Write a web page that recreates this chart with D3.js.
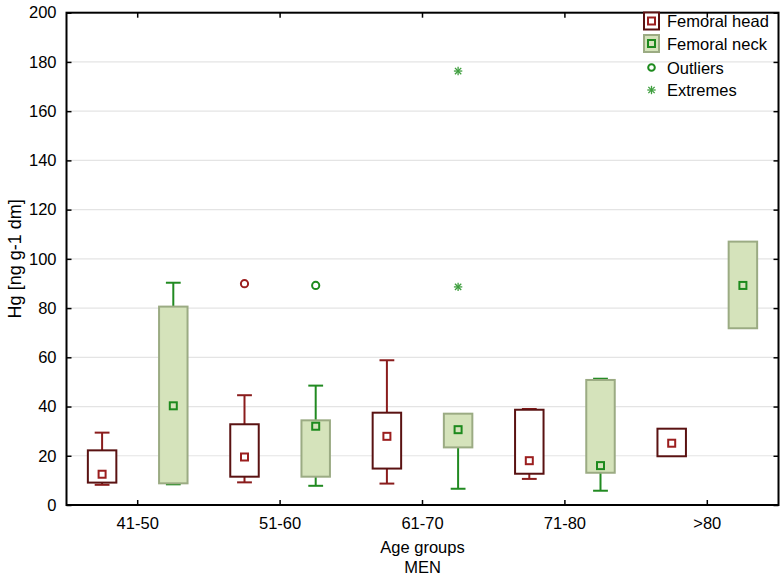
<!DOCTYPE html>
<html><head><meta charset="utf-8">
<script src="https://cdn.jsdelivr.net/npm/d3@7"></script>
<style>body{margin:0;background:#fff}text{font-family:Arial,"Liberation Sans",sans-serif;fill:#000}</style>
</head><body><svg id="c" width="782" height="577"></svg>
<script>
const categories = ["41-50","51-60","61-70","71-80",">80"];
// Femoral head: whiskerLow, boxLow, marker, boxHigh, whiskerHigh
const headLow    = [8.2, 9.2, 8.7, 10.6, 19.8];
const headQ1     = [9.1, 11.5, 14.8, 12.7, 19.8];
const headMid    = [12.5, 19.5, 27.9, 18.0, 25.1];
const headQ3     = [22.2, 32.8, 37.5, 38.7, 31.0];
const headHigh   = [29.4, 44.6, 58.8, 39.0, 31.0];
const headOutliers = [[], [89.9], [], [], []];
// Femoral neck
const neckLow    = [8.4, 7.8, 6.6, 5.8, 71.8];
const neckQ1     = [8.8, 11.5, 23.4, 13.1, 71.8];
const neckMid    = [40.3, 32.0, 30.6, 16.0, 89.2];
const neckQ3     = [80.6, 34.4, 37.1, 50.8, 107.0];
const neckHigh   = [90.3, 48.5, 37.1, 51.3, 107.0];
const neckOutliers = [[], [89.2], [], [], []];
const neckExtremes = [[], [], [176.3, 88.6], [], []];
const yTicks = [0,20,40,60,80,100,120,140,160,180,200];
const legendLabels = ["Femoral head","Femoral neck","Outliers","Extremes"];

const svg = d3.select("#c");
const L = 66.5, R = 778.5, T = 12.7, B = 505;
const x = d3.scaleBand().domain(categories).range([L, R]);
const y = d3.scaleLinear().domain([0, 200]).range([B, T]);
const bw = x.bandwidth();
const boxW = bw * 0.2, capW = boxW * 0.52;

// grid
svg.append("g").selectAll("line").data(yTicks.filter(d => d > 0 && d < 200)).join("line")
  .attr("x1", L).attr("x2", R).attr("y1", d => y(d)).attr("y2", d => y(d))
  .attr("stroke", "#e4e4e4").attr("stroke-width", 1.2);

const series = [
  {off: -0.25, low: headLow, q1: headQ1, mid: headMid, q3: headQ3, high: headHigh,
   fill: "#ffffff", boxStroke: "#5a1212", wh: "#8a1c1c", mk: "#9b1e1e", mkFill: "#ffffff", out: headOutliers, ext: null},
  {off: 0.25, low: neckLow, q1: neckQ1, mid: neckMid, q3: neckQ3, high: neckHigh,
   fill: "#d5e3bb", boxStroke: "#9bab83", wh: "#218a21", mk: "#1d8a1d", mkFill: "#d5e3bb", out: neckOutliers, ext: neckExtremes}
];

series.forEach(s => {
  const g = svg.append("g");
  categories.forEach((c, i) => {
    const cx = x(c) + bw / 2 + s.off * bw;
    if (s.high[i] > s.q3[i]) {
      g.append("line").attr("x1", cx).attr("x2", cx).attr("y1", y(s.q3[i])).attr("y2", y(s.high[i])).attr("stroke", s.wh).attr("stroke-width", 2);
      g.append("line").attr("x1", cx - capW/2).attr("x2", cx + capW/2).attr("y1", y(s.high[i])).attr("y2", y(s.high[i])).attr("stroke", s.wh).attr("stroke-width", 2);
    }
    if (s.low[i] < s.q1[i]) {
      g.append("line").attr("x1", cx).attr("x2", cx).attr("y1", y(s.q1[i])).attr("y2", y(s.low[i])).attr("stroke", s.wh).attr("stroke-width", 2);
      g.append("line").attr("x1", cx - capW/2).attr("x2", cx + capW/2).attr("y1", y(s.low[i])).attr("y2", y(s.low[i])).attr("stroke", s.wh).attr("stroke-width", 2);
    }
    g.append("rect").attr("x", cx - boxW/2).attr("width", boxW)
      .attr("y", y(s.q3[i])).attr("height", y(s.q1[i]) - y(s.q3[i]))
      .attr("fill", s.fill).attr("stroke", s.boxStroke).attr("stroke-width", 2);
    g.append("rect").attr("x", cx - 3.5).attr("y", y(s.mid[i]) - 3.5).attr("width", 7).attr("height", 7)
      .attr("fill", s.mkFill).attr("stroke", s.mk).attr("stroke-width", 2);
    s.out[i].forEach(v => {
      g.append("circle").attr("cx", cx).attr("cy", y(v)).attr("r", 3.6)
        .attr("fill", "none").attr("stroke", s.mk).attr("stroke-width", 2);
    });
    if (s.ext) s.ext[i].forEach(v => drawAst(g, cx, y(v)));
  });
});

function drawAst(g, cx, cy) {
  const r = 4.2;
  const a = g.append("g").attr("stroke", "#3e9e3e").attr("stroke-width", 1.3);
  a.append("line").attr("x1", cx - r).attr("x2", cx + r).attr("y1", cy).attr("y2", cy);
  a.append("line").attr("x1", cx).attr("x2", cx).attr("y1", cy - r).attr("y2", cy + r);
  a.append("line").attr("x1", cx - r*0.75).attr("x2", cx + r*0.75).attr("y1", cy - r*0.75).attr("y2", cy + r*0.75);
  a.append("line").attr("x1", cx - r*0.75).attr("x2", cx + r*0.75).attr("y1", cy + r*0.75).attr("y2", cy - r*0.75);
}

// frame + ticks
svg.append("rect").attr("x", L).attr("y", T).attr("width", R - L).attr("height", B - T)
  .attr("fill", "none").attr("stroke", "#000").attr("stroke-width", 2);
const xAxis = svg.append("g").attr("transform", `translate(0,${B})`)
  .call(d3.axisBottom(x).tickSize(-5).tickPadding(12));
xAxis.select(".domain").remove();
xAxis.selectAll("line").attr("stroke-width", 1.5);
xAxis.selectAll("text").attr("font-size", 16.5).attr("font-family", "Arial, 'Liberation Sans', sans-serif");
const xTop = svg.append("g").attr("transform", `translate(0,${T})`).call(d3.axisTop(x).tickSize(-5).tickFormat(""));
xTop.select(".domain").remove(); xTop.selectAll("line").attr("stroke-width", 1.5);
const yAxis = svg.append("g").attr("transform", `translate(${L},0)`)
  .call(d3.axisLeft(y).tickValues(yTicks).tickSize(-5).tickPadding(10));
yAxis.select(".domain").remove();
yAxis.selectAll("line").attr("stroke-width", 1.5);
yAxis.selectAll("text").attr("font-size", 16.5).attr("font-family", "Arial, 'Liberation Sans', sans-serif");
const yR = svg.append("g").attr("transform", `translate(${R},0)`)
  .call(d3.axisRight(y).tickValues(yTicks).tickSize(-5).tickFormat(""));
yR.select(".domain").remove(); yR.selectAll("line").attr("stroke-width", 1.5);

// titles
svg.append("text").attr("x", (L + R) / 2).attr("y", 553).attr("text-anchor", "middle").attr("font-size", 16.5).text("Age groups");
svg.append("text").attr("x", (L + R) / 2).attr("y", 573).attr("text-anchor", "middle").attr("font-size", 16.5).text("MEN");
svg.append("text").attr("transform", `translate(21,${(T + B) / 2}) rotate(-90)`).attr("text-anchor", "middle").attr("font-size", 18).text("Hg [ng g-1 dm]");

// legend
const lg = svg.append("g");
const lx = 651.5, ly = [21, 43.5, 67.5, 90];
lg.append("rect").attr("x", lx - 7.5).attr("y", ly[0] - 8.5).attr("width", 15).attr("height", 17).attr("fill", "#fff").attr("stroke", "#5a1212").attr("stroke-width", 2);
lg.append("rect").attr("x", lx - 3.5).attr("y", ly[0] - 3.5).attr("width", 7).attr("height", 7).attr("fill", "#fff").attr("stroke", "#9b1e1e").attr("stroke-width", 2);
lg.append("rect").attr("x", lx - 7.5).attr("y", ly[1] - 8.5).attr("width", 15).attr("height", 17).attr("fill", "#d5e3bb").attr("stroke", "#9bab83").attr("stroke-width", 2);
lg.append("rect").attr("x", lx - 3.5).attr("y", ly[1] - 3.5).attr("width", 7).attr("height", 7).attr("fill", "#d5e3bb").attr("stroke", "#1d8a1d").attr("stroke-width", 2);
lg.append("circle").attr("cx", lx).attr("cy", ly[2]).attr("r", 3.3).attr("fill", "none").attr("stroke", "#1d8a1d").attr("stroke-width", 2);
drawAst(lg, lx, ly[3]);
lg.selectAll("text.l").data(legendLabels).join("text").attr("class", "l")
  .attr("x", 667).attr("y", (d, i) => ly[i] + 6).attr("font-size", 16.5).text(d => d);
</script></body></html>
